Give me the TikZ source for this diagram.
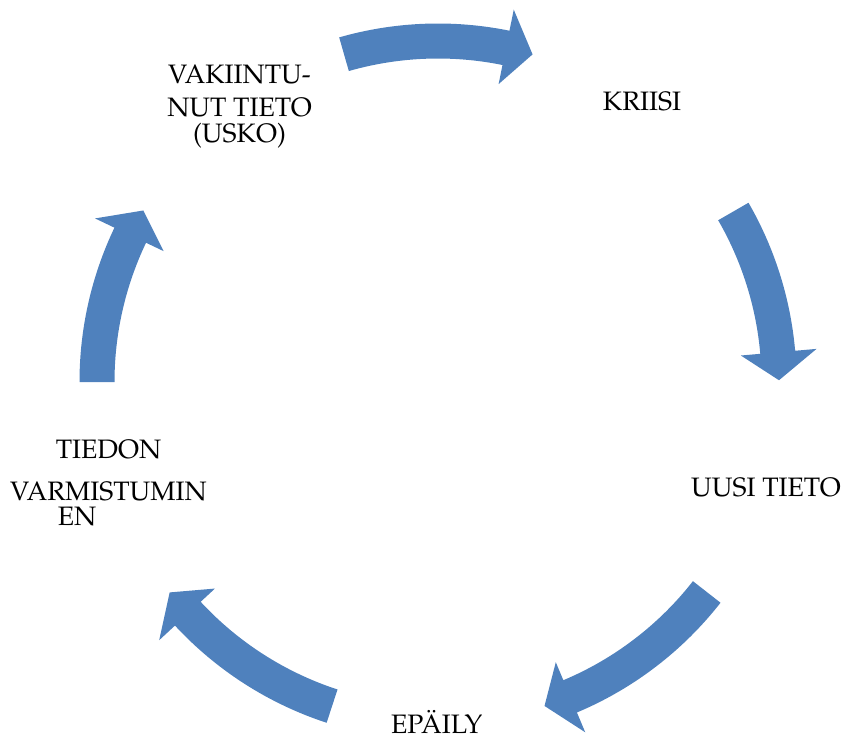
\documentclass[tikz,border=0pt]{standalone}
\usepackage[T1]{fontenc}
\usepackage{mathpazo}
\definecolor{cyblue}{HTML}{4F81BD}
\tikzset{
  cyarrowfill/.style={fill=cyblue, draw=none},
  cylabel/.style={font=\fontsize{20}{24}\selectfont, inner sep=0pt, text=black, align=center}
}
% tail angle, head-base angle, tip angle
\newcommand\cyarrow[3]{%
  \fill[cyarrowfill] (#1:358.5) arc[start angle=#1, end angle=#2, radius=358.5]
    -- (#2:380) -- (#3:341) -- (#2:304) -- (#2:323.5)
    arc[start angle=#2, end angle=#1, radius=323.5] -- cycle;%
}
\begin{document}
\begin{tikzpicture}[x=0.75pt, y=0.75pt]
\useasboundingbox (0,0) rectangle (848,-743);
\begin{scope}[shift={(438,-382)}]
  \cyarrow{106}{78.5}{73.9}
  \cyarrow{30}{5}{0.3}
  \cyarrow{-38}{-67.2}{-71.8}
  \cyarrow{-108.1}{-137.2}{-141.9}
  \cyarrow{180}{154.5}{149.8}
\end{scope}
\node[cylabel, anchor=base] (kriisi) at (642,-110) {KRIISI};
\node[cylabel, anchor=base] (uusi) at (766,-496.7) {UUSI TIETO};
\node[cylabel, anchor=base] (epaily) at (436.7,-733) {EP\"AILY};
\node[cylabel, anchor=base] (vakiintu) at (239.5,-142.3) {VAKIINTU-\\[1pt]NUT TIETO\\[-4.7pt](USKO)};
\node[cylabel, anchor=base] (tiedon) at (108.5,-525) {TIEDON\\[7.3pt]VARMISTUMIN\\[-5.25pt]\hspace*{-47pt}EN};
\end{tikzpicture}
\end{document}
